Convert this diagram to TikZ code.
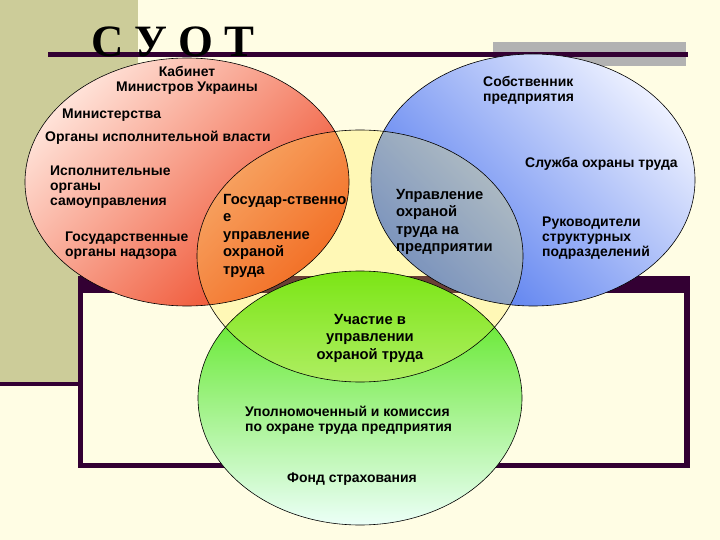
\documentclass[tikz,border=0pt]{standalone}
\usepackage{fontspec}
\setmainfont{Liberation Sans}
\newfontfamily\titlefont{Liberation Serif}
\usetikzlibrary{positioning}
\definecolor{cream}{RGB}{255,253,228}
\definecolor{olive}{RGB}{204,204,153}
\definecolor{plum}{RGB}{51,0,51}
\definecolor{stone}{RGB}{178,178,178}
\definecolor{blush}{RGB}{255,226,216}
\definecolor{salmon}{RGB}{250,135,110}
\definecolor{coral}{RGB}{238,70,35}
\definecolor{mist}{RGB}{236,240,255}
\definecolor{sky}{RGB}{135,160,245}
\definecolor{azure}{RGB}{78,118,238}
\definecolor{lime}{RGB}{75,228,8}
\definecolor{mint}{RGB}{88,240,62}
\definecolor{frost}{RGB}{236,255,248}
\definecolor{sun}{RGB}{255,235,60}
\tikzset{
  ring/.style={draw=black,line width=0.6bp},
  tag/.style={font=\fontsize{14}{15}\selectfont\bfseries,inner sep=0pt,align=left,anchor=north west},
  lens/.style={font=\fontsize{14.8}{17.5}\selectfont\bfseries,inner sep=0pt,align=left,anchor=north west},
  heading/.style={font=\titlefont\fontsize{45}{45}\selectfont\bfseries,inner sep=0pt,anchor=base west},
}
\begin{document}
\begin{tikzpicture}[x=1bp,y=-1bp]
  \useasboundingbox (0,0) rectangle (720,540);
  % backdrop
  \fill[cream] (0,0) rectangle (720,540);
  \fill[olive] (0,0) rectangle (138,382);
  \fill[plum] (0,382) rectangle (80,386);
  \fill[plum] (78,276) rectangle (690,468);
  \fill[cream] (83,293) rectangle (684,463);
  \fill[stone] (493,42) rectangle (686,66);
  \fill[plum] (48,52) rectangle (688,57);
  \node[heading] (title) at (91,57) {С У О Т};
  % circles
  \shade[top color=blush,middle color=salmon,bottom color=coral,shading angle=45]
    (187,182) ellipse [x radius=162,y radius=124];
  \shade[top color=mist,middle color=sky,bottom color=azure,shading angle=-45]
    (533,180) ellipse [x radius=162,y radius=126];
  \shade[top color=lime,middle color=mint,bottom color=frost]
    (360,398) ellipse [x radius=162,y radius=127];
  \fill[sun,fill opacity=0.27] (360,256) ellipse [x radius=163,y radius=126];
  \draw[ring] (187,182) ellipse [x radius=162,y radius=124];
  \draw[ring] (533,180) ellipse [x radius=162,y radius=126];
  \draw[ring] (360,398) ellipse [x radius=162,y radius=127];
  \draw[ring] (360,256) ellipse [x radius=163,y radius=126];
  % state side
  \node[tag,align=center,anchor=north] (cabinet) at (187,66) {Кабинет\\Министров Украины};
  \node[tag] (ministry) at (62,109) {Министерства};
  \node[tag] (executive) at (45,131) {Органы исполнительной власти};
  \node[tag] (selfgov) at (50,166) {Исполнительные\\органы\\самоуправления};
  \node[tag] (supervision) at (65,232) {Государственные\\органы надзора};
  \node[lens] (statemgmt) at (223,194) {Государ-ственно\\е\\управление\\охраной\\труда};
  % enterprise side
  \node[tag] (owner) at (483,76) {Собственник\\предприятия};
  \node[tag] (service) at (525,157) {Служба охраны труда};
  \node[lens] (firmmgmt) at (396,189) {Управление\\охраной\\труда на\\предприятии};
  \node[tag] (heads) at (542,217) {Руководители\\структурных\\подразделений};
  % workers side
  \node[lens,align=center,anchor=north] (share) at (370,314) {Участие в\\управлении\\охраной труда};
  \node[tag] (commission) at (245,406) {Уполномоченный и комиссия\\по охране труда предприятия};
  \node[tag] (fund) at (287,473) {Фонд страхования};
\end{tikzpicture}
\end{document}
